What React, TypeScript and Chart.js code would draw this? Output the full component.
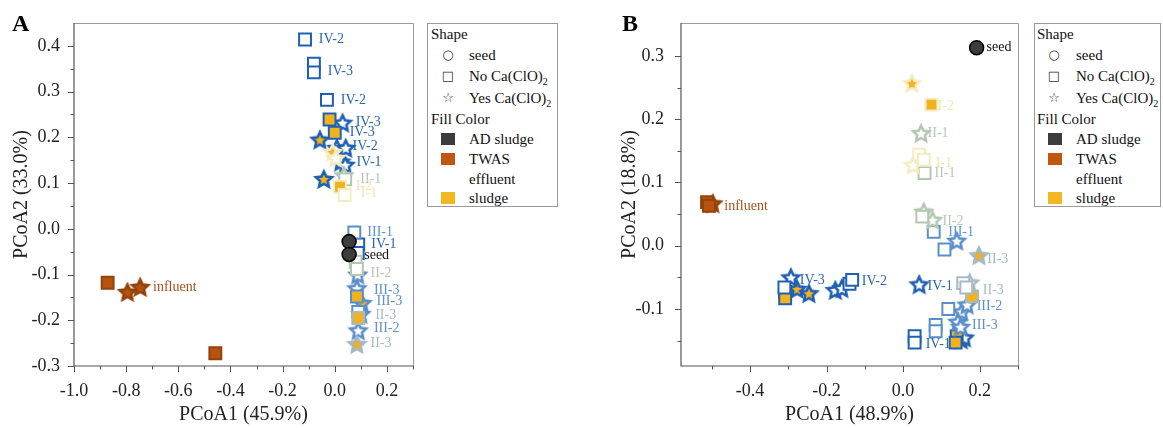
import React, { useEffect, useRef } from 'react';
import { Chart, registerables } from 'chart.js';

Chart.register(...registerables);

type Pt = [number, number];
type Lab = [number, number, string];

const FONT = '"Liberation Serif", "Times New Roman", serif';

// ---------------- Panel A data ----------------
const A_X_MAJOR = [-1.0, -0.8, -0.6, -0.4, -0.2, 0.0, 0.2];
const A_X_MINOR = [-0.9, -0.7, -0.5, -0.3, -0.1, 0.1, 0.3];
const A_Y_MAJOR = [-0.3, -0.2, -0.1, 0.0, 0.1, 0.2, 0.3, 0.4];
const A_Y_MINOR = [-0.25, -0.15, -0.05, 0.05, 0.15, 0.25, 0.35];

const A_TWAS_SQ: Pt[] = [[-0.871, -0.118], [-0.458, -0.272]];
const A_TWAS_STAR: Pt[] = [[-0.795, -0.138], [-0.746, -0.127]];
const A_SEED: Pt[] = [[0.055, -0.028], [0.055, -0.056]];
const A_I_SQ_EFF: Pt[] = [[0.038, 0.074]];
const A_I_SQ_SLU: Pt[] = [[0.02, 0.092]];
const A_I_STAR_EFF: Pt[] = [[0.004, 0.155]];
const A_I_STAR_SLU: Pt[] = [[-0.008, 0.168]];
const A_II_SQ_EFF: Pt[] = [[0.04, 0.108], [0.08, -0.072], [0.085, -0.088]];
const A_II_STAR_EFF: Pt[] = [[0.035, 0.117]];
const A_II3_SQ_SLU: Pt[] = [[0.09, -0.195]];
const A_II3_STAR_SLU: Pt[] = [[0.085, -0.252]];
const A_III_SQ_EFF: Pt[] = [[0.075, -0.008], [0.09, -0.182]];
const A_III_SQ_SLU: Pt[] = [[0.085, -0.148]];
const A_III_STAR_EFF: Pt[] = [[0.088, -0.1], [0.085, -0.13], [0.09, -0.222]];
const A_III_STAR_SLU: Pt[] = [[0.105, -0.162], [0.1, -0.186]];
const A_IV_SQ_EFF: Pt[] = [[-0.114, 0.414], [-0.08, 0.361], [-0.08, 0.342], [-0.03, 0.282], [0.09, -0.034], [0.088, -0.053]];
const A_IV_SQ_SLU: Pt[] = [[-0.02, 0.239], [0.0, 0.21]];
const A_IV_STAR_EFF: Pt[] = [[0.03, 0.232], [0.008, 0.177], [0.042, 0.177], [0.023, 0.147], [0.04, 0.14]];
const A_IV_STAR_SLU: Pt[] = [[-0.057, 0.195], [-0.042, 0.109]];

const A_LABELS: Lab[] = [
  [-0.061, 0.414, 'IV-2'], [-0.027, 0.344, 'IV-3'], [0.023, 0.282, 'IV-2'],
  [0.08, 0.232, 'IV-3'], [0.057, 0.21, 'IV-3'], [0.068, 0.18, 'IV-2'], [0.083, 0.145, 'IV-1'],
  [0.098, 0.109, 'II-1'], [0.08, 0.092, 'I-2'], [0.1, 0.077, 'I-1'],
  [0.125, -0.007, 'III-1'], [0.14, -0.033, 'IV-1'], [0.113, -0.057, 'seed'],
  [0.137, -0.098, 'II-2'], [0.15, -0.135, 'III-3'], [0.16, -0.158, 'III-3'],
  [0.155, -0.19, 'II-3'], [0.15, -0.217, 'III-2'], [0.137, -0.25, 'II-3'],
  [-0.697, -0.127, 'influent'],
];

// ---------------- Panel B data ----------------
const B_X_MAJOR = [-0.4, -0.2, 0.0, 0.2];
const B_X_MINOR = [-0.5, -0.3, -0.1, 0.1, 0.3];
const B_Y_MAJOR = [-0.1, 0.0, 0.1, 0.2, 0.3];
const B_Y_MINOR = [-0.15, -0.05, 0.05, 0.15, 0.25];

const B_TWAS_SQ: Pt[] = [[-0.512, 0.069], [-0.507, 0.063]];
const B_TWAS_STAR: Pt[] = [[-0.497, 0.067]];
const B_SEED: Pt[] = [[0.192, 0.313]];
const B_I_SQ_EFF: Pt[] = [[0.042, 0.144], [0.054, 0.136]];
const B_I_SQ_SLU: Pt[] = [[0.074, 0.223]];
const B_I_STAR_EFF: Pt[] = [[0.026, 0.128]];
const B_I_STAR_SLU: Pt[] = [[0.023, 0.257]];
const B_II_SQ_EFF: Pt[] = [[0.056, 0.115], [0.05, 0.046]];
const B_II_STAR_EFF: Pt[] = [[0.047, 0.178], [0.054, 0.054], [0.077, 0.041]];
const B_II3_SQ_EFF: Pt[] = [[0.157, -0.059], [0.165, -0.066]];
const B_II3_SQ_SLU: Pt[] = [[0.18, -0.08]];
const B_II3_STAR_EFF: Pt[] = [[0.174, -0.058]];
const B_II3_STAR_SLU: Pt[] = [[0.198, -0.015]];
const B_III_SQ_EFF: Pt[] = [[0.08, 0.022], [0.108, -0.006], [0.118, -0.1], [0.085, -0.125], [0.085, -0.135]];
const B_III_STAR_EFF: Pt[] = [[0.14, 0.008], [0.153, -0.104], [0.167, -0.093], [0.143, -0.12], [0.15, -0.128]];
const B_IV_SQ_EFF: Pt[] = [[-0.31, -0.066], [-0.14, -0.06], [-0.133, -0.054], [0.03, -0.143], [0.03, -0.153]];
const B_IV_SQ_SLU: Pt[] = [[-0.308, -0.073], [-0.308, -0.083], [0.14, -0.143], [0.137, -0.153]];
const B_IV_STAR_EFF: Pt[] = [[-0.293, -0.05], [-0.177, -0.07], [-0.16, -0.067], [0.042, -0.061], [0.16, -0.145]];
const B_IV_STAR_SLU: Pt[] = [[-0.277, -0.068], [-0.246, -0.075], [0.152, -0.148]];

const B_LABELS: Lab[] = [
  [0.218, 0.313, 'seed'], [0.09, 0.22, 'I-2'], [0.064, 0.177, 'II-1'], [0.085, 0.131, 'I-1'],
  [0.082, 0.115, 'II-1'], [-0.467, 0.062, 'influent'], [0.103, 0.038, 'II-2'], [0.118, 0.022, 'III-1'],
  [0.22, -0.022, 'II-3'], [-0.27, -0.054, 'IV-3'], [-0.108, -0.056, 'IV-2'], [0.064, -0.064, 'IV-1'],
  [0.208, -0.07, 'II-3'], [0.192, -0.096, 'III-2'], [0.18, -0.125, 'III-3'], [0.059, -0.155, 'IV-1'],
];

// ---------------- Legend text ----------------
const SHAPE_ITEMS = ['seed', 'No Ca(ClO)2', 'Yes Ca(ClO)2'];
const FILL_ITEMS = ['AD sludge', 'TWAS', 'effluent', 'sludge'];

// ---------------- Styles ----------------
const C_YEL = '#f0b21e';
const STYLES: Record<string, { fill: string; stroke: string }> = {
  twas: { fill: '#b7530f', stroke: '#93420c' },
  seed: { fill: '#3d3d3d', stroke: '#000000' },
  I_eff: { fill: '#ffffff', stroke: '#f5edc0' },
  I_slu: { fill: C_YEL, stroke: '#f5edc0' },
  II_eff: { fill: '#ffffff', stroke: '#b4c7b1' },
  II3_eff: { fill: '#ffffff', stroke: '#a5b9c7' },
  II3_slu: { fill: C_YEL, stroke: '#a5b9c7' },
  III_eff: { fill: '#ffffff', stroke: '#5a8fc9' },
  III_slu: { fill: C_YEL, stroke: '#5a8fc9' },
  IV_eff: { fill: '#ffffff', stroke: '#1f60b2' },
  IV_slu: { fill: C_YEL, stroke: '#1f60b2' },
};
const LEGEND_FILLS: Record<string, string | null> = {
  'AD sludge': '#3c3c3c', TWAS: '#c0560f', effluent: null, sludge: '#f2b722',
};
const SHAPE_GLYPH: Record<string, string> = { seed: '○', 'No Ca(ClO)2': '□', 'Yes Ca(ClO)2': '☆' };

function labelColor(t: string): string {
  if (t === 'seed') return '#111111';
  if (t === 'influent') return '#a4501a';
  if (t.startsWith('IV')) return '#2b66b3';
  if (t.startsWith('III')) return '#5e92cc';
  if (t === 'II-3') return '#a7bac7';
  if (t.startsWith('II')) return '#b6c8b4';
  return '#f0e6b0';
}

type Series = [Pt[], string, string];

const A_SERIES: Series[] = [
  [A_TWAS_SQ, 'sq', 'twas'], [A_TWAS_STAR, 'star', 'twas'], [A_SEED, 'circle', 'seed'],
  [A_I_SQ_EFF, 'sq', 'I_eff'], [A_I_SQ_SLU, 'sq', 'I_slu'], [A_I_STAR_EFF, 'star', 'I_eff'], [A_I_STAR_SLU, 'star', 'I_slu'],
  [A_II_SQ_EFF, 'sq', 'II_eff'], [A_II_STAR_EFF, 'star', 'II_eff'],
  [A_II3_SQ_SLU, 'sq', 'II3_slu'], [A_II3_STAR_SLU, 'star', 'II3_slu'],
  [A_III_SQ_EFF, 'sq', 'III_eff'], [A_III_SQ_SLU, 'sq', 'III_slu'], [A_III_STAR_EFF, 'star', 'III_eff'], [A_III_STAR_SLU, 'star', 'III_slu'],
  [A_IV_SQ_EFF, 'sq', 'IV_eff'], [A_IV_SQ_SLU, 'sq', 'IV_slu'], [A_IV_STAR_EFF, 'star', 'IV_eff'], [A_IV_STAR_SLU, 'star', 'IV_slu'],
];

const B_SERIES: Series[] = [
  [B_TWAS_SQ, 'sq', 'twas'], [B_TWAS_STAR, 'star', 'twas'], [B_SEED, 'circle', 'seed'],
  [B_I_SQ_EFF, 'sq', 'I_eff'], [B_I_SQ_SLU, 'sq', 'I_slu'], [B_I_STAR_EFF, 'star', 'I_eff'], [B_I_STAR_SLU, 'star', 'I_slu'],
  [B_II_SQ_EFF, 'sq', 'II_eff'], [B_II_STAR_EFF, 'star', 'II_eff'],
  [B_II3_SQ_EFF, 'sq', 'II3_eff'], [B_II3_SQ_SLU, 'sq', 'II3_slu'], [B_II3_STAR_EFF, 'star', 'II3_eff'], [B_II3_STAR_SLU, 'star', 'II3_slu'],
  [B_III_SQ_EFF, 'sq', 'III_eff'], [B_III_STAR_EFF, 'star', 'III_eff'],
  [B_IV_SQ_EFF, 'sq', 'IV_eff'], [B_IV_SQ_SLU, 'sq', 'IV_slu'], [B_IV_STAR_EFF, 'star', 'IV_eff'], [B_IV_STAR_SLU, 'star', 'IV_slu'],
];

interface PanelCfg {
  xMin: number; xMax: number; yMin: number; yMax: number;
  xMajor: number[]; xMinor: number[]; yMajor: number[]; yMinor: number[];
  xTitle: string; yTitle: string;
  yAxisWidth: number; padRight: number; yTickPad: number; yTitlePad: number;
  series: Series[]; labels: Lab[];
}

const PANEL_A: PanelCfg = {
  xMin: -1.0, xMax: 0.3, yMin: -0.3, yMax: 0.45,
  xMajor: A_X_MAJOR, xMinor: A_X_MINOR, yMajor: A_Y_MAJOR, yMinor: A_Y_MINOR,
  xTitle: 'PCoA1 (45.9%)', yTitle: 'PCoA2 (33.0%)',
  yAxisWidth: 74, padRight: 9, yTickPad: 6, yTitlePad: 10,
  series: A_SERIES, labels: A_LABELS,
};
const PANEL_B: PanelCfg = {
  xMin: -0.58, xMax: 0.3, yMin: -0.19, yMax: 0.352,
  xMajor: B_X_MAJOR, xMinor: B_X_MINOR, yMajor: B_Y_MAJOR, yMinor: B_Y_MINOR,
  xTitle: 'PCoA1 (48.9%)', yTitle: 'PCoA2 (18.8%)',
  yAxisWidth: 81, padRight: 7, yTickPad: 9, yTitlePad: 18,
  series: B_SERIES, labels: B_LABELS,
};

function makeStar(fill: string, stroke: string): HTMLCanvasElement {
  const R = 8.4, lw = 2.6;
  const size = 24;
  const c = document.createElement('canvas');
  c.width = size; c.height = size;
  const ctx = c.getContext('2d')!;
  ctx.translate(size / 2, size / 2 + 0.9);
  ctx.beginPath();
  for (let i = 0; i < 10; i++) {
    const r = i % 2 === 0 ? R : R * 0.48;
    const a = -Math.PI / 2 + (i * Math.PI) / 5;
    const px = r * Math.cos(a), py = r * Math.sin(a);
    if (i === 0) ctx.moveTo(px, py); else ctx.lineTo(px, py);
  }
  ctx.closePath();
  ctx.fillStyle = fill;
  ctx.fill();
  ctx.lineWidth = lw;
  ctx.lineJoin = 'miter';
  ctx.strokeStyle = stroke;
  ctx.stroke();
  return c;
}

function PanelChart({ left, width, cfg }: { left: number; width: number; cfg: PanelCfg }) {
  const ref = useRef<HTMLCanvasElement>(null);
  useEffect(() => {
    const canvas = ref.current!;
    const datasets = cfg.series.map(([pts, shape, key]) => {
      const st = STYLES[key];
      return {
        data: pts.map(([x, y]) => ({ x, y })),
        pointStyle: shape === 'star' ? makeStar(st.fill, st.stroke) : shape === 'sq' ? 'rect' : 'circle',
        pointRadius: shape === 'sq' ? 8.4 : shape === 'circle' ? 7 : 10,
        backgroundColor: st.fill,
        borderColor: st.stroke,
        borderWidth: shape === 'circle' ? 1.5 : 2,
        showLine: false,
      };
    });
    const decor = {
      id: 'decor',
      beforeDatasetsDraw(chart: any) {
        const { ctx, chartArea: a, scales } = chart;
        const xs = scales.x, ys = scales.y;
        ctx.save();
        ctx.strokeStyle = '#9a9a9a';
        ctx.lineWidth = 1;
        ctx.beginPath();
        ctx.moveTo(a.left, a.top + 0.5);
        ctx.lineTo(a.right + 0.5, a.top + 0.5);
        ctx.lineTo(a.right + 0.5, a.bottom);
        ctx.stroke();
        ctx.strokeStyle = '#555555';
        ctx.lineWidth = 1.2;
        ctx.beginPath();
        ctx.moveTo(a.left, a.top);
        ctx.lineTo(a.left, a.bottom);
        ctx.lineTo(a.right + 1, a.bottom);
        ctx.stroke();
        ctx.lineWidth = 1;
        ctx.beginPath();
        const tick = (vals: number[], len: number) => {
          vals.forEach((v) => {
            const px = Math.round(xs.getPixelForValue(v)) + 0.5;
            ctx.moveTo(px, a.bottom); ctx.lineTo(px, a.bottom + len);
          });
        };
        const ytick = (vals: number[], len: number) => {
          vals.forEach((v) => {
            const py = Math.round(ys.getPixelForValue(v)) + 0.5;
            ctx.moveTo(a.left, py); ctx.lineTo(a.left - len, py);
          });
        };
        tick(cfg.xMajor, 6); tick(cfg.xMinor, 3.5);
        ytick(cfg.yMajor, 6); ytick(cfg.yMinor, 3.5);
        ctx.stroke();
        ctx.font = `14px ${FONT}`;
        ctx.textAlign = 'left';
        ctx.textBaseline = 'middle';
        cfg.labels.forEach(([x, y, t]) => {
          ctx.fillStyle = labelColor(t);
          ctx.fillText(t, xs.getPixelForValue(x), ys.getPixelForValue(y));
        });
        ctx.restore();
      },
    };
    const chart = new Chart(canvas, {
      type: 'scatter',
      data: { datasets: datasets as any },
      options: {
        animation: false,
        responsive: false,
        events: [],
        layout: { padding: { left: 0, right: cfg.padRight, top: 23, bottom: 0 } },
        plugins: { legend: { display: false }, tooltip: { enabled: false } },
        scales: {
          x: {
            type: 'linear', position: 'bottom', min: cfg.xMin, max: cfg.xMax,
            grid: { display: false }, border: { display: false },
            ticks: {
              font: { family: FONT, size: 18 }, color: '#222', padding: 6, autoSkip: false, maxRotation: 0,
              callback: (v: any) => Number(v).toFixed(1),
            },
            afterBuildTicks: (s: any) => { s.ticks = cfg.xMajor.map((v) => ({ value: v })); },
            afterFit: (s: any) => { s.height = 62; },
            title: { display: true, text: cfg.xTitle, font: { family: FONT, size: 20 }, color: '#222', padding: { top: 0, bottom: 1 } },
          },
          y: {
            type: 'linear', position: 'left', min: cfg.yMin, max: cfg.yMax,
            grid: { display: false }, border: { display: false },
            ticks: {
              font: { family: FONT, size: 18 }, color: '#222', padding: cfg.yTickPad, autoSkip: false,
              callback: (v: any) => Number(v).toFixed(1),
            },
            afterBuildTicks: (s: any) => { s.ticks = cfg.yMajor.map((v) => ({ value: v })); },
            afterFit: (s: any) => { s.width = cfg.yAxisWidth; },
            title: { display: true, text: cfg.yTitle, font: { family: FONT, size: 20 }, color: '#222', padding: { top: cfg.yTitlePad, bottom: 0 } },
          },
        },
      } as any,
      plugins: [decor],
    });
    return () => chart.destroy();
  }, []);
  return (
    <canvas ref={ref} width={width} height={428}
      style={{ position: 'absolute', left, top: 0, width, height: 428 }} />
  );
}

function renderLabel(t: string) {
  if (t.endsWith(')2')) {
    return (<span>{t.slice(0, -1)}<span style={{ fontSize: 10, position: 'relative', top: 4 }}>2</span></span>);
  }
  return <span>{t}</span>;
}

function Legend({ left, width, hx, sx, tx, qx }: { left: number; width: number; hx: number; sx: number; tx: number; qx: number }) {
  const row = (cy: number, x: number, content: React.ReactNode, key: string) => (
    <div key={key} style={{ position: 'absolute', left: x, top: cy - 10, height: 20, lineHeight: '20px', whiteSpace: 'nowrap' }}>{content}</div>
  );
  const shapeY = [31, 52, 74];
  const fillY = [115, 135, 155, 174];
  return (
    <div style={{ position: 'absolute', left, top: 23, width, height: 184, border: '1px solid #9a9a9a', boxSizing: 'border-box', fontFamily: FONT, fontSize: 15, color: '#111' }}>
      {row(10, hx, 'Shape', 'sh')}
      {SHAPE_ITEMS.map((t, i) => (
        <React.Fragment key={t}>
          <div style={{ position: 'absolute', left: sx - 8, width: 16, top: shapeY[i] - 10, height: 20, lineHeight: '20px', textAlign: 'center', fontFamily: '"DejaVu Sans", sans-serif', fontSize: 13, color: '#333' }}>{SHAPE_GLYPH[t]}</div>
          {row(shapeY[i], tx, renderLabel(t), 'st' + i)}
        </React.Fragment>
      ))}
      {row(95, hx, 'Fill Color', 'fc')}
      {FILL_ITEMS.map((t, i) => (
        <React.Fragment key={t}>
          {LEGEND_FILLS[t] && (
            <div style={{ position: 'absolute', left: qx, top: fillY[i] - 6, width: 14, height: 12, background: LEGEND_FILLS[t] as string }} />
          )}
          {row(fillY[i], tx, t, 'ft' + i)}
        </React.Fragment>
      ))}
    </div>
  );
}

export default function App() {
  return (
    <div style={{ position: 'absolute', left: 0, top: 0, width: 1163, height: 428, background: '#fff', overflow: 'hidden' }}>
      <PanelChart left={0} width={425} cfg={PANEL_A} />
      <PanelChart left={600} width={430} cfg={PANEL_B} />
      <div style={{ position: 'absolute', left: 12, top: 11, fontFamily: FONT, fontWeight: 'bold', fontSize: 24, lineHeight: '24px' }}>A</div>
      <div style={{ position: 'absolute', left: 622, top: 11, fontFamily: FONT, fontWeight: 'bold', fontSize: 24, lineHeight: '24px' }}>B</div>
      <Legend left={427} width={131} hx={3} sx={20} tx={41} qx={13} />
      <Legend left={1034} width={127} hx={2} sx={19} tx={41} qx={13} />
    </div>
  );
}
